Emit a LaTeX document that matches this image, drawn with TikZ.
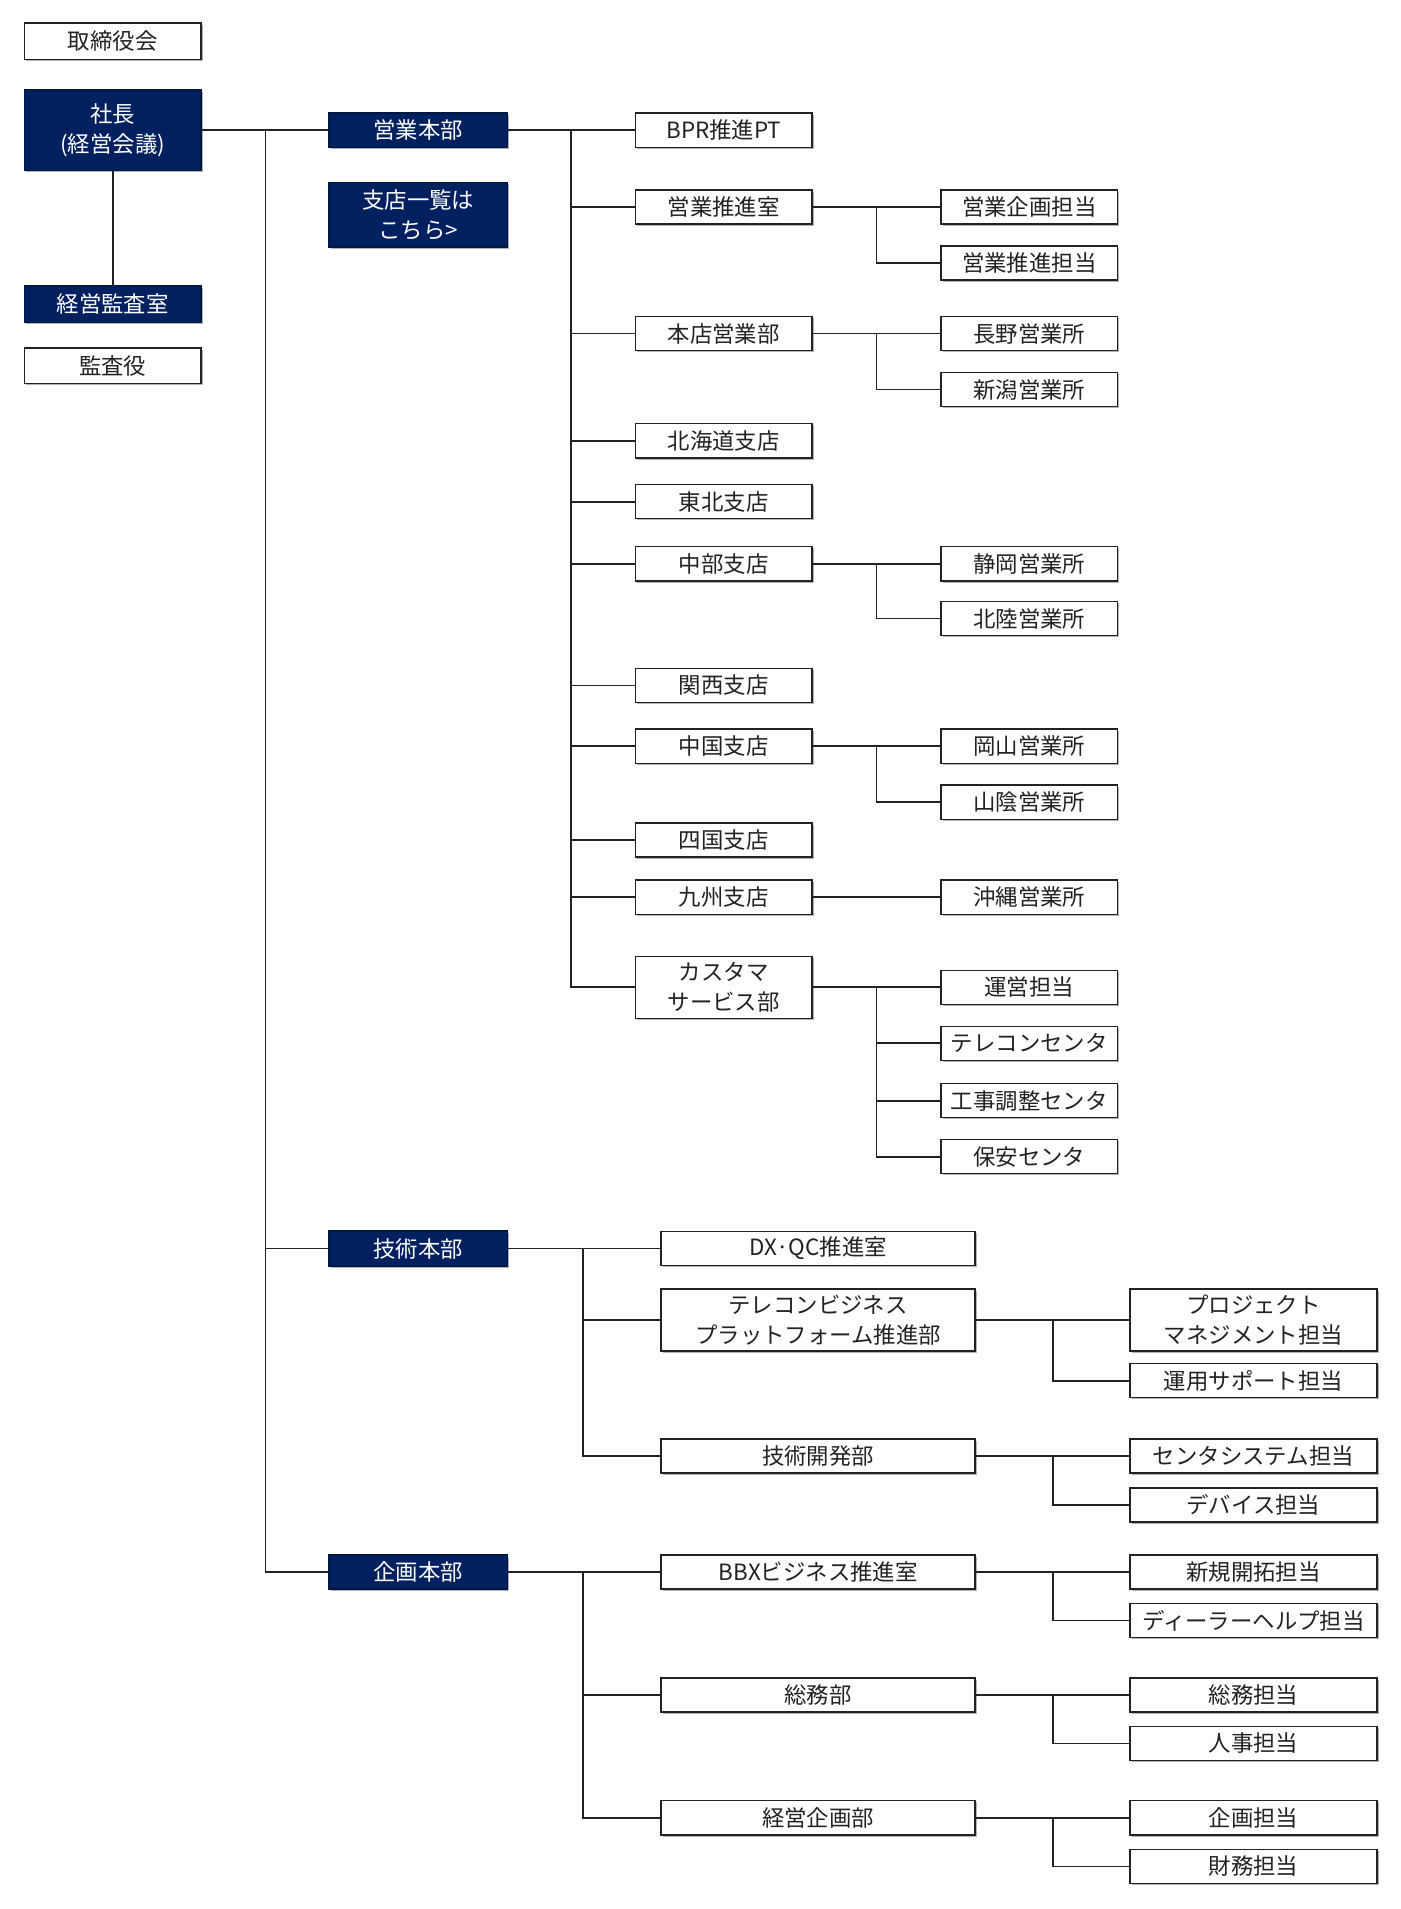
\documentclass[tikz,border=0pt]{standalone}
\usepackage{fontspec}
\setmainfont{Noto Sans CJK JP}
\usetikzlibrary{shadows}
\definecolor{navy}{HTML}{002060}
\definecolor{ink}{HTML}{222222}
\newcommand\myu{0.608696pt}
\begin{document}
\begin{tikzpicture}[x=0.608696pt, y=-0.608696pt,
  box/.style={draw=ink, line width=0.8pt, inner sep=0pt, align=center,
    font=\fontsize{11.2}{15}\selectfont, text=ink, fill=white,
    drop shadow={shadow xshift=0.9pt, shadow yshift=-0.9pt, opacity=0.3, fill=black}},
  dark/.style={box, fill=navy, text=white, draw=navy!70!black},
  sz/.style 2 args={minimum width=#1*\myu, minimum height=#2*\myu},
  conn/.style={draw=ink, line width=0.9pt}
]
\useasboundingbox (0,0) rectangle (1150,1568);

% left column
\node[box, sz={145}{30}] (tori) at (92.5,34) {取締役会};
\node[dark, sz={145}{66}] (ceo) at (92.5,107) {社長\\(経営会議)};
\node[dark, sz={145}{30}] (kansashitsu) at (92.5,250) {経営監査室};
\node[box, sz={145}{29}] (kansayaku) at (92.5,300.5) {監査役};

% headquarters
\node[dark, sz={147}{28}] (eigyo) at (343.5,107) {営業本部};
\node[dark, sz={147}{53}] (shiten) at (343.5,176.5) {支店一覧は\\こちら>};
\node[dark, sz={147}{29}] (gijutsu) at (343.5,1025.5) {技術本部};
\node[dark, sz={147}{28}] (kikaku) at (343.5,1291) {企画本部};

% eigyo level 2
\node[box, sz={145}{28}] (bpr) at (594.5,107) {BPR推進PT};
\node[box, sz={145}{28}] (suishin) at (594.5,170) {営業推進室};
\node[box, sz={145}{28}] (honten) at (594.5,274) {本店営業部};
\node[box, sz={145}{28}] (hokkaido) at (594.5,362) {北海道支店};
\node[box, sz={145}{28}] (tohoku) at (594.5,412) {東北支店};
\node[box, sz={145}{28}] (chubu) at (594.5,463) {中部支店};
\node[box, sz={145}{28}] (kansai) at (594.5,563) {関西支店};
\node[box, sz={145}{28}] (chugoku) at (594.5,613) {中国支店};
\node[box, sz={145}{28}] (shikoku) at (594.5,690) {四国支店};
\node[box, sz={145}{28}] (kyushu) at (594.5,737) {九州支店};
\node[box, sz={145}{51}] (cs) at (594.5,811) {カスタマ\\サービス部};

% eigyo level 3
\node[box, sz={145}{28}] (kikakut) at (845.5,170) {営業企画担当};
\node[box, sz={145}{28}] (suishint) at (845.5,216) {営業推進担当};
\node[box, sz={145}{28}] (nagano) at (845.5,274) {長野営業所};
\node[box, sz={145}{28}] (niigata) at (845.5,320) {新潟営業所};
\node[box, sz={145}{28}] (shizuoka) at (845.5,463) {静岡営業所};
\node[box, sz={145}{28}] (hokuriku) at (845.5,508) {北陸営業所};
\node[box, sz={145}{28}] (okayama) at (845.5,613) {岡山営業所};
\node[box, sz={145}{28}] (sanin) at (845.5,659) {山陰営業所};
\node[box, sz={145}{28}] (okinawa) at (845.5,737) {沖縄営業所};
\node[box, sz={145}{28}] (unei) at (845.5,811) {運営担当};
\node[box, sz={145}{28}] (telecon) at (845.5,857) {テレコンセンタ};
\node[box, sz={145}{28}] (koji) at (845.5,904) {工事調整センタ};
\node[box, sz={145}{28}] (hoan) at (845.5,950) {保安センタ};

% gijutsu level 2
\node[box, sz={258}{28}] (dx) at (672,1025.5) {DX·QC推進室};
\node[box, sz={258}{51}] (tbp) at (672,1084) {テレコンビジネス\\プラットフォーム推進部};
\node[box, sz={258}{28}] (gikai) at (672,1196) {技術開発部};
% gijutsu level 3
\node[box, sz={203}{51}] (pm) at (1029.5,1084) {プロジェクト\\マネジメント担当};
\node[box, sz={203}{28}] (unyo) at (1029.5,1134) {運用サポート担当};
\node[box, sz={203}{28}] (centersys) at (1029.5,1196) {センタシステム担当};
\node[box, sz={203}{28}] (device) at (1029.5,1236) {デバイス担当};

% kikaku level 2
\node[box, sz={258}{28}] (bbx) at (672,1291) {BBXビジネス推進室};
\node[box, sz={258}{28}] (somu) at (672,1392) {総務部};
\node[box, sz={258}{28}] (keiki) at (672,1493) {経営企画部};
% kikaku level 3
\node[box, sz={203}{28}] (shinki) at (1029.5,1291) {新規開拓担当};
\node[box, sz={203}{28}] (dealer) at (1029.5,1331) {ディーラーヘルプ担当};
\node[box, sz={203}{28}] (somut) at (1029.5,1392) {総務担当};
\node[box, sz={203}{28}] (jinji) at (1029.5,1432) {人事担当};
\node[box, sz={203}{28}] (kikakut2) at (1029.5,1493) {企画担当};
\node[box, sz={203}{28}] (zaimu) at (1029.5,1533) {財務担当};

% junction x positions
\coordinate (mt) at (218,107);
\coordinate (et) at (469,107);
\coordinate (jt) at (479,0);
\coordinate (js) at (720,0);
\coordinate (jg) at (865,0);

% connectors
\draw[conn] (ceo.south) -- (kansashitsu.north);
\draw[conn] (ceo.east) -- (eigyo.west);
\draw[conn] (mt) |- (gijutsu.west);
\draw[conn] (mt) |- (kikaku.west);

\draw[conn] (eigyo.east) -- (bpr.west);
\foreach \n in {suishin,honten,hokkaido,tohoku,chubu,kansai,chugoku,shikoku,kyushu,cs}
  \draw[conn] (et) |- (\n.west);
\foreach \p/\c in {suishin/kikakut,honten/nagano,chubu/shizuoka,chugoku/okayama,kyushu/okinawa,cs/unei}
  \draw[conn] (\p.east) -- (\c.west);
\foreach \p/\c in {suishin/suishint,honten/niigata,chubu/hokuriku,chugoku/sanin,cs/telecon,cs/koji,cs/hoan}
  \draw[conn] (\p.east -| js) |- (\c.west);

\draw[conn] (gijutsu.east) -- (dx.west);
\draw[conn] (gijutsu.east -| jt) |- (tbp.west);
\draw[conn] (gijutsu.east -| jt) |- (gikai.west);
\draw[conn] (kikaku.east) -- (bbx.west);
\draw[conn] (kikaku.east -| jt) |- (somu.west);
\draw[conn] (kikaku.east -| jt) |- (keiki.west);

\foreach \p/\c in {tbp/pm,gikai/centersys,bbx/shinki,somu/somut,keiki/kikakut2}
  \draw[conn] (\p.east) -- (\c.west);
\foreach \p/\c in {tbp/unyo,gikai/device,bbx/dealer,somu/jinji,keiki/zaimu}
  \draw[conn] (\p.east -| jg) |- (\c.west);
\end{tikzpicture}
\end{document}
